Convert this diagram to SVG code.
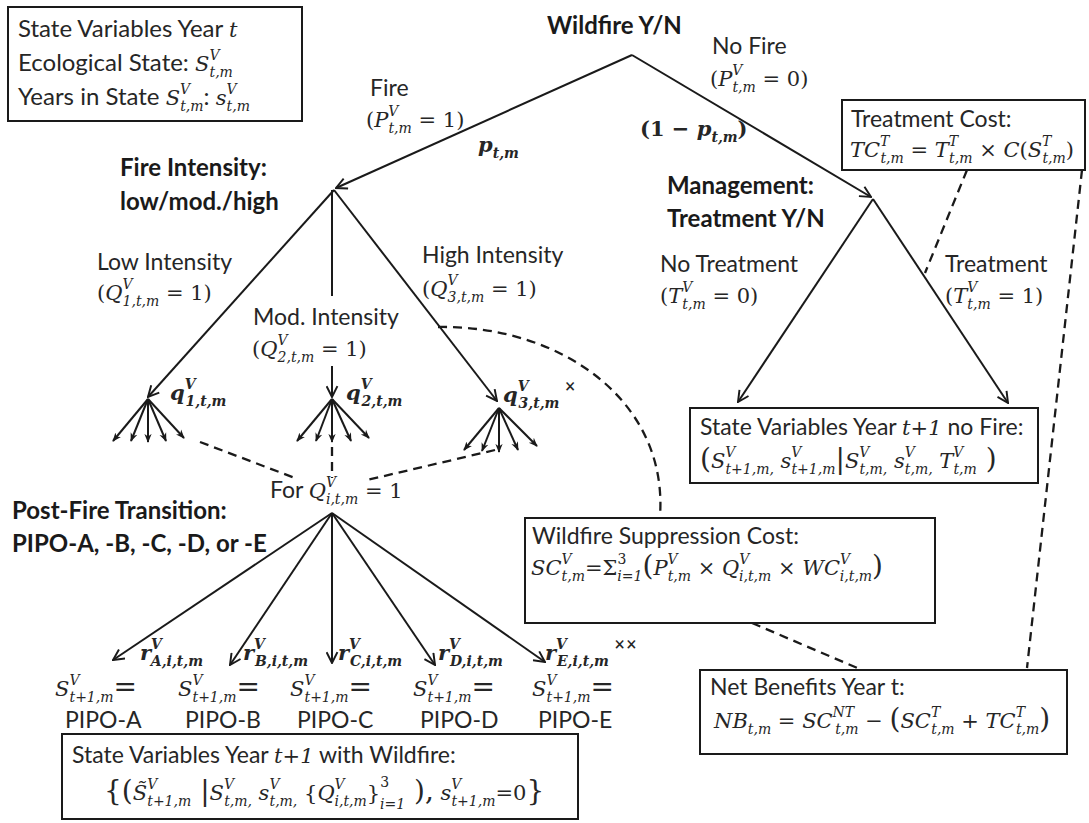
<svg xmlns="http://www.w3.org/2000/svg" width="1089" height="823" viewBox="0 0 1089 823">
<defs>
<style>
.lb{font-family:Lato,"Liberation Sans",sans-serif;font-size:23px;fill:#262626}
.lg{font-size:24px}
.bd{font-family:Lato,"Liberation Sans",sans-serif;font-size:24px;font-weight:bold;fill:#1a1a1a}
.m{font-family:"DejaVu Serif","Liberation Serif",serif;font-style:italic;font-size:21px;fill:#262626}
.s{font-size:14px}
.n{font-style:normal}
.big{font-size:28px}
.mb{font-weight:bold}
.box{fill:#fff;stroke:#1a1a1a;stroke-width:2}
.ln{fill:none;stroke:#1a1a1a;stroke-width:2}
.dash{fill:none;stroke:#1a1a1a;stroke-width:2.3;stroke-dasharray:9 6}
</style>
<marker id="ah" viewBox="0 0 12 12" refX="11" refY="6" markerWidth="13" markerHeight="13" markerUnits="userSpaceOnUse" orient="auto"><path d="M1,1 L11,6 L1,11" fill="none" stroke="#1a1a1a" stroke-width="1.8"/></marker>
<marker id="as" viewBox="0 0 10 10" refX="9" refY="5" markerWidth="9" markerHeight="9" markerUnits="userSpaceOnUse" orient="auto"><path d="M0,1 L10,5 L0,9 L3,5 z" fill="#1a1a1a"/></marker>
</defs>
<rect width="1089" height="823" fill="#fff"/>

<g id="connectors">
<path class="ln" marker-end="url(#ah)" d="M632,55 L336,188"/>
<path class="ln" marker-end="url(#ah)" d="M632,55 L871,197"/>
<path class="ln" marker-end="url(#ah)" d="M334,190 L148,397"/>
<path class="ln" d="M332,190 L332,296"/>
<path class="ln" marker-end="url(#ah)" d="M332,366 L332,397"/>
<path class="ln" marker-end="url(#ah)" d="M334,190 L497,401"/>
<path class="ln" marker-end="url(#as)" d="M148,399 L113,441"/>
<path class="ln" marker-end="url(#as)" d="M148,399 L131,441"/>
<path class="ln" marker-end="url(#as)" d="M148,399 L148,442"/>
<path class="ln" marker-end="url(#as)" d="M148,399 L166,441"/>
<path class="ln" marker-end="url(#as)" d="M148,399 L184,438"/>
<path class="ln" marker-end="url(#as)" d="M332,399 L297,441"/>
<path class="ln" marker-end="url(#as)" d="M332,399 L316,441"/>
<path class="ln" marker-end="url(#as)" d="M332,399 L332,442"/>
<path class="ln" marker-end="url(#as)" d="M332,399 L351,441"/>
<path class="ln" marker-end="url(#as)" d="M332,399 L369,438"/>
<path class="ln" marker-end="url(#as)" d="M499,408 L464,450"/>
<path class="ln" marker-end="url(#as)" d="M499,408 L482,451"/>
<path class="ln" marker-end="url(#as)" d="M499,408 L499,452"/>
<path class="ln" marker-end="url(#as)" d="M499,408 L518,450"/>
<path class="ln" marker-end="url(#as)" d="M499,408 L537,446"/>
<path class="ln" marker-end="url(#ah)" d="M873,199 L738,402"/>
<path class="ln" marker-end="url(#ah)" d="M873,199 L1008,403"/>
<path class="ln" marker-end="url(#ah)" d="M332,513 L113,660"/>
<path class="ln" marker-end="url(#ah)" d="M332,513 L230,665"/>
<path class="ln" marker-end="url(#ah)" d="M332,513 L332,663"/>
<path class="ln" marker-end="url(#ah)" d="M332,513 L435,665"/>
<path class="ln" marker-end="url(#ah)" d="M332,513 L545,662"/>
<path class="dash" d="M200,442 L295,478"/>
<path class="dash" d="M332,447 L332,478"/>
<path class="dash" d="M495,450 L367,480"/>
<path class="dash" d="M438,327 C560,325 668,400 660,516"/>
<path class="dash" d="M967,170 L925,273"/>
<path class="dash" d="M1082,170 L1027,668"/>
<path class="dash" d="M752,623 L862,670"/>
</g>

<g id="state-year-t">
<rect class="box" x="8" y="7" width="294" height="114"/>
<text class="lb lg" x="18" y="37">State Variables Year <tspan class="m">t</tspan></text>
<text class="lb lg" x="18" y="71">Ecological State: <tspan class="m">S</tspan><tspan class="m s" dy="-11">V</tspan><tspan class="m s" dx="-10" dy="17">t,m</tspan></text>
<text class="lb lg" x="18" y="105">Years in State <tspan class="m">S</tspan><tspan class="m s" dy="-11">V</tspan><tspan class="m s" dx="-10" dy="17">t,m</tspan><tspan dy="-6">: </tspan><tspan class="m">s</tspan><tspan class="m s" dy="-11">V</tspan><tspan class="m s" dx="-10" dy="17">t,m</tspan></text>
</g>

<g id="wildfire">
<text class="bd" x="547" y="34">Wildfire Y/N</text>
</g>

<g id="fire-label">
<text class="lb" x="370" y="96">Fire</text>
<text class="m" x="366" y="127"><tspan class="n">(</tspan>P<tspan class="s" dy="-11">V</tspan><tspan class="s" dx="-10" dy="17">t,m</tspan><tspan class="n" dy="-6"> = 1)</tspan></text>
<text class="m mb" x="478" y="152">p<tspan class="s" dy="6">t,m</tspan></text>
</g>

<g id="nofire-label">
<text class="lb" x="712" y="54">No Fire</text>
<text class="m" x="710" y="86"><tspan class="n">(</tspan>P<tspan class="s" dy="-11">V</tspan><tspan class="s" dx="-10" dy="17">t,m</tspan><tspan class="n" dy="-6"> = 0)</tspan></text>
<text class="m mb" x="640" y="136"><tspan class="n">(1 − </tspan>p<tspan class="s" dy="6">t,m</tspan><tspan class="n" dy="-6">)</tspan></text>
</g>

<g id="fire-intensity">
<text class="bd" x="120" y="176">Fire Intensity:</text>
<text class="bd" x="120" y="210">low/mod./high</text>
</g>

<g id="management">
<text class="bd" x="667" y="194">Management:</text>
<text class="bd" x="667" y="227">Treatment Y/N</text>
</g>

<g id="treatment-cost">
<rect class="box" x="842" y="100" width="243" height="70"/>
<text class="lb" x="851" y="127">Treatment Cost:</text>
<text class="m" x="850" y="157">TC<tspan class="s" dy="-11">T</tspan><tspan class="s" dx="-9" dy="17">t,m</tspan><tspan class="n" dy="-6"> = </tspan>T<tspan class="s" dy="-11">T</tspan><tspan class="s" dx="-9" dy="17">t,m</tspan><tspan class="n" dy="-6"> × </tspan>C<tspan class="n">(</tspan>S<tspan class="s" dy="-11">T</tspan><tspan class="s" dx="-9" dy="17">t,m</tspan><tspan class="n" dy="-6">)</tspan></text>
</g>

<g id="treatment-labels">
<text class="lb" x="660" y="272">No Treatment</text>
<text class="m" x="660" y="303"><tspan class="n">(</tspan>T<tspan class="s" dy="-11">V</tspan><tspan class="s" dx="-10" dy="17">t,m</tspan><tspan class="n" dy="-6"> = 0)</tspan></text>
<text class="lb" x="945" y="272">Treatment</text>
<text class="m" x="945" y="303"><tspan class="n">(</tspan>T<tspan class="s" dy="-11">V</tspan><tspan class="s" dx="-10" dy="17">t,m</tspan><tspan class="n" dy="-6"> = 1)</tspan></text>
</g>

<g id="state-nofire">
<rect class="box" x="690" y="408" width="348" height="75"/>
<text class="lb" x="700" y="435">State Variables Year <tspan class="m">t+1</tspan> no Fire:</text>
<text class="m" x="700" y="468"><tspan class="n big">(</tspan>S<tspan class="s" dy="-11">V</tspan><tspan class="s" dx="-10" dy="17">t+1,m,</tspan><tspan dy="-6"> s</tspan><tspan class="s" dy="-11">V</tspan><tspan class="s" dx="-10" dy="17">t+1,m</tspan><tspan class="n big" dy="-6">|</tspan>S<tspan class="s" dy="-11">V</tspan><tspan class="s" dx="-10" dy="17">t,m,</tspan><tspan dy="-6"> s</tspan><tspan class="s" dy="-11">V</tspan><tspan class="s" dx="-10" dy="17">t,m,</tspan><tspan dy="-6"> T</tspan><tspan class="s" dy="-11">V</tspan><tspan class="s" dx="-10" dy="17">t,m</tspan><tspan class="n big" dy="-6"> )</tspan></text>
</g>

<g id="intensity-labels">
<text class="lb" x="97" y="270">Low Intensity</text>
<text class="m" x="97" y="300"><tspan class="n">(</tspan>Q<tspan class="s" dy="-11">V</tspan><tspan class="s" dx="-10" dy="17">1,t,m</tspan><tspan class="n" dy="-6"> = 1)</tspan></text>
<text class="lb" x="253" y="325">Mod. Intensity</text>
<text class="m" x="252" y="356"><tspan class="n">(</tspan>Q<tspan class="s" dy="-11">V</tspan><tspan class="s" dx="-10" dy="17">2,t,m</tspan><tspan class="n" dy="-6"> = 1)</tspan></text>
<text class="lb" x="422" y="263">High Intensity</text>
<text class="m" x="422" y="296"><tspan class="n">(</tspan>Q<tspan class="s" dy="-11">V</tspan><tspan class="s" dx="-10" dy="17">3,t,m</tspan><tspan class="n" dy="-6"> = 1)</tspan></text>
</g>

<g id="q-labels">
<text class="m mb" x="170" y="400">q<tspan class="s" dy="-11">V</tspan><tspan class="s" dx="-10" dy="17">1,t,m</tspan></text>
<text class="m mb" x="346" y="400">q<tspan class="s" dy="-11">V</tspan><tspan class="s" dx="-10" dy="17">2,t,m</tspan></text>
<text class="m mb" x="503" y="402">q<tspan class="s" dy="-11">V</tspan><tspan class="s" dx="-10" dy="17">3,t,m</tspan><tspan class="s n" dy="-17"> ×</tspan></text>
</g>

<g id="for-q">
<text class="lb" x="270" y="498">For <tspan class="m">Q</tspan><tspan class="m s" dy="-11">V</tspan><tspan class="m s" dx="-10" dy="17">i,t,m</tspan><tspan class="m n" dy="-6"> = 1</tspan></text>
</g>

<g id="post-fire">
<text class="bd" x="12" y="519">Post-Fire Transition:</text>
<text class="bd" x="12" y="552">PIPO-A, -B, -C, -D, or -E</text>
</g>

<g id="r-labels">
<text class="m mb" x="140" y="660">r<tspan class="s" dy="-11">V</tspan><tspan class="s" dx="-10" dy="17">A,i,t,m</tspan></text>
<text class="m mb" x="243" y="660">r<tspan class="s" dy="-11">V</tspan><tspan class="s" dx="-10" dy="17">B,i,t,m</tspan></text>
<text class="m mb" x="338" y="660">r<tspan class="s" dy="-11">V</tspan><tspan class="s" dx="-10" dy="17">C,i,t,m</tspan></text>
<text class="m mb" x="438" y="660">r<tspan class="s" dy="-11">V</tspan><tspan class="s" dx="-10" dy="17">D,i,t,m</tspan></text>
<text class="m mb" x="545" y="660">r<tspan class="s" dy="-11">V</tspan><tspan class="s" dx="-10" dy="17">E,i,t,m</tspan><tspan class="s n" dy="-17"> ××</tspan></text>
</g>

<g id="pipo-states">
<text class="m" x="55" y="696">S<tspan class="s" dy="-11">V</tspan><tspan class="s" dx="-10" dy="17">t+1,m</tspan><tspan class="n big" dy="-6">=</tspan></text>
<text class="m" x="178" y="696">S<tspan class="s" dy="-11">V</tspan><tspan class="s" dx="-10" dy="17">t+1,m</tspan><tspan class="n big" dy="-6">=</tspan></text>
<text class="m" x="290" y="696">S<tspan class="s" dy="-11">V</tspan><tspan class="s" dx="-10" dy="17">t+1,m</tspan><tspan class="n big" dy="-6">=</tspan></text>
<text class="m" x="413" y="696">S<tspan class="s" dy="-11">V</tspan><tspan class="s" dx="-10" dy="17">t+1,m</tspan><tspan class="n big" dy="-6">=</tspan></text>
<text class="m" x="532" y="696">S<tspan class="s" dy="-11">V</tspan><tspan class="s" dx="-10" dy="17">t+1,m</tspan><tspan class="n big" dy="-6">=</tspan></text>
<text class="lb" x="65" y="728">PIPO-A</text>
<text class="lb" x="185" y="728">PIPO-B</text>
<text class="lb" x="297" y="728">PIPO-C</text>
<text class="lb" x="420" y="728">PIPO-D</text>
<text class="lb" x="538" y="728">PIPO-E</text>
</g>

<g id="state-wildfire">
<rect class="box" x="62" y="734" width="516" height="85"/>
<text class="lb" x="72" y="763">State Variables Year <tspan class="m">t+1</tspan> with Wildfire:</text>
<text class="m" x="104" y="800"><tspan class="n big">{(</tspan>S̃<tspan class="s" dy="-11">V</tspan><tspan class="s" dx="-10" dy="17">t+1,m</tspan><tspan class="n big" dy="-6"> |</tspan>S<tspan class="s" dy="-11">V</tspan><tspan class="s" dx="-10" dy="17">t,m,</tspan><tspan dy="-6"> s</tspan><tspan class="s" dy="-11">V</tspan><tspan class="s" dx="-10" dy="17">t,m,</tspan><tspan class="n" dy="-6"> {</tspan>Q<tspan class="s" dy="-11">V</tspan><tspan class="s" dx="-10" dy="17">i,t,m</tspan><tspan class="n" dy="-6">}</tspan><tspan class="s n" dy="-13">3</tspan><tspan class="s" dx="-9" dy="22">i=1</tspan><tspan class="n big" dy="-9"> ),</tspan><tspan> s</tspan><tspan class="s" dy="-11">V</tspan><tspan class="s" dx="-10" dy="17">t+1,m</tspan><tspan class="n" dy="-6">=0</tspan><tspan class="n big">}</tspan></text>
</g>

<g id="suppression-cost">
<rect class="box" x="525" y="518" width="410" height="105"/>
<text class="lb" x="532" y="544">Wildfire Suppression Cost:</text>
<text class="m" x="531" y="575">SC<tspan class="s" dy="-11">V</tspan><tspan class="s" dx="-10" dy="17">t,m</tspan><tspan class="n" dy="-6">=Σ</tspan><tspan class="s n" dy="-11">3</tspan><tspan class="s" dx="-9" dy="17">i=1</tspan><tspan class="n big" dy="-6">(</tspan>P<tspan class="s" dy="-11">V</tspan><tspan class="s" dx="-10" dy="17">t,m</tspan><tspan class="n" dy="-6"> × </tspan>Q<tspan class="s" dy="-11">V</tspan><tspan class="s" dx="-10" dy="17">i,t,m</tspan><tspan class="n" dy="-6"> × </tspan>WC<tspan class="s" dy="-11">V</tspan><tspan class="s" dx="-10" dy="17">i,t,m</tspan><tspan class="n big" dy="-6">)</tspan></text>
</g>

<g id="net-benefits">
<rect class="box" x="700" y="670" width="367" height="84"/>
<text class="lb" x="710" y="695">Net Benefits Year t:</text>
<text class="m" x="714" y="728">NB<tspan class="s" dy="6">t,m</tspan><tspan class="n" dy="-6"> = </tspan>SC<tspan class="s" dy="-11">NT</tspan><tspan class="s" dx="-19" dy="17">t,m</tspan><tspan class="n" dy="-6"> − </tspan><tspan class="n big">(</tspan>SC<tspan class="s" dy="-11">T</tspan><tspan class="s" dx="-9" dy="17">t,m</tspan><tspan class="n" dy="-6"> + </tspan>TC<tspan class="s" dy="-11">T</tspan><tspan class="s" dx="-9" dy="17">t,m</tspan><tspan class="n big" dy="-6">)</tspan></text>
</g>
</svg>
